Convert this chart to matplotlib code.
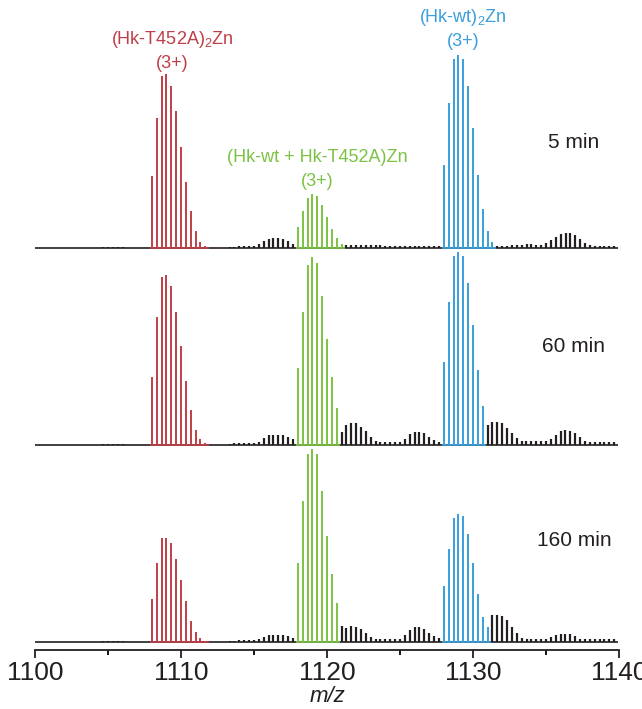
import matplotlib.pyplot as plt
import numpy as np

plt.rcParams['font.family'] = ['Liberation Sans', 'DejaVu Sans']
plt.rcParams['mathtext.fontset'] = 'custom'
plt.rcParams['mathtext.rm'] = 'Liberation Sans'
plt.rcParams['mathtext.it'] = 'Liberation Sans:italic'

STEP = 1 / 3  # isotope spacing of a 3+ ion

times = ['5 min', '60 min', '160 min']

# first m/z of each coloured isotope cluster
red_start, green_start, blue_start = 1108.0, 1118.0, 1128.0

# relative intensities (%), one row per time point
red_int = [
    [37, 67, 89, 90, 84, 71, 52, 34, 19, 9, 3, 1],
    [35, 66, 87, 88, 82, 69, 51, 33, 18, 8, 3, 1],
    [22, 41, 54, 54, 51, 43, 32, 21, 11, 5, 2, 0.5],
]
green_int = [
    [11, 19, 26, 28, 27, 22, 16, 10, 5, 2],
    [40, 69, 93, 97, 94, 77, 55, 35, 19],
    [41, 73, 97, 100, 97, 78, 55, 35, 20],
]
blue_int = [
    [43, 75, 98, 100, 98, 84, 62, 38, 20, 9, 3],
    [43, 74, 98, 100, 98, 84, 62, 39, 20],
    [29, 48, 64, 66, 65, 56, 41, 25, 13, 8],
]

# other (black) peaks: (first m/z, intensities)
black_5 = [
    (1104.67, [0.5, 0.5, 0.5, 0.5, 0.5]),
    (1113.33, [0.5, 0.5, 1, 1, 1, 1]),
    (1115.33, [2, 3.6, 4.7, 5.2, 5.2, 4.7, 3.6, 2]),
    (1121.33, [1.5, 1.5, 1.5, 1.5, 1.5, 1.5, 1.5, 1.5, 1, 1,
               1, 1, 1, 1, 1, 1, 1, 1, 1, 1]),
    (1131.67, [1, 1, 1, 1.5, 1.5, 1.5, 2, 2, 1.5, 1.5, 2.6, 4.1]),
    (1135.67, [5.7, 7.2, 7.8, 7.8, 6.7, 4.7, 2.6]),
    (1138.0, [1.5, 1, 1, 1, 1, 1]),
]
black_60 = [
    (1104.67, [0.5, 0.5, 0.5, 0.5, 0.5]),
    (1113.33, [0.5, 1, 1, 1, 1, 1]),
    (1115.33, [1.5, 3.6, 5.2, 5.2, 5.2, 5.2, 4.1, 3.1]),
    (1121.0, [6.7, 10.3, 11.4, 11.4, 9.3, 7.2, 4.1]),
    (1123.33, [2, 1.5, 1.5, 1.5, 1.5, 1.5]),
    (1125.33, [3.1, 5.7, 6.7, 6.7, 6.2, 4.1, 2.6, 1.5]),
    (1131.0, [10.3, 11.9, 11.9, 11.4, 8.8, 6.2, 3.6]),
    (1133.33, [2, 2, 2, 2, 2, 2]),
    (1135.33, [3.1, 5.2, 7.2, 7.8, 7.2, 6.2, 4.1, 2]),
    (1138.0, [1.5, 1.5, 1.5, 1.5, 1.5, 1.5]),
]
black_160 = [
    (1104.67, [0.5, 0.5, 0.5, 0.5, 0.5]),
    (1113.33, [0.5, 0.5, 1, 1, 1, 1]),
    (1115.33, [1.5, 2.6, 3.6, 3.6, 3.6, 3.6, 3.1, 2]),
    (1121.0, [8.3, 7.2, 8.3, 7.8, 6.7, 4.7, 2.6]),
    (1123.33, [1.5, 1.5, 1.5, 1.5, 1.5, 1.5]),
    (1125.33, [3.6, 6.2, 7.8, 7.8, 6.7, 4.7, 3.1, 2]),
    (1131.33, [14, 14, 13.5, 11.4, 7.8, 4.7, 2]),
    (1133.67, [1.5, 1.5, 1.5, 1.5, 1.5]),
    (1135.33, [2.6, 3.5, 4.3, 4.3, 4, 3.1, 1.7]),
    (1137.67, [1.5, 1.5, 1.5, 1.5, 1.5, 1.5, 1.5]),
]
black_peaks = [black_5, black_60, black_160]

c_red = '#bf3f48'
c_green = '#7cc242'
c_blue = '#3a9fdc'
c_black = '#231f20'

W, H = 642, 709
fig = plt.figure(figsize=(W / 100, H / 100), dpi=100)
# axis line at y=650 px, 1100 at x=35 px, 1140 at x=619 px
ax = fig.add_axes([35 / W, (H - 650) / H, 584 / W, 650 / H])
px = 1.933  # pixels per % intensity
ax.set_ylim(0, 650 / px)
ax.set_xlim(1100, 1140)

offsets = [402 / px, 205 / px, 8 / px]  # baseline of each spectrum
lw = 1.4

for i, off in enumerate(offsets):
    ax.hlines(off, 1100, 1139.9, color=c_black, lw=1.2)
    for start, heights in black_peaks[i]:
        mz = start + STEP * np.arange(len(heights))
        ax.vlines(mz, off, off + np.array(heights), color=c_black, lw=1.6)
    for start, heights, col in [(red_start, red_int[i], c_red),
                                (green_start, green_int[i], c_green),
                                (blue_start, blue_int[i], c_blue)]:
        mz = start + STEP * np.arange(len(heights))
        ax.hlines(off, mz[0] - 0.15, mz[-1] + 0.25, color=col, lw=1.2)
        ax.vlines(mz, off, off + np.array(heights), color=col, lw=lw)

ax.set_xticks(np.arange(1100, 1141, 10))
ax.set_xticks(np.arange(1105, 1140, 10), minor=True)
ax.tick_params(axis='x', which='major', direction='out', length=6, width=1.3,
               labelsize=19, pad=2, colors=c_black)
ax.tick_params(axis='x', which='minor', direction='out', length=3.5, width=1.3)
ax.set_yticks([])
for s in ['left', 'right', 'top']:
    ax.spines[s].set_visible(False)
ax.spines['bottom'].set_linewidth(1.3)
ax.spines['bottom'].set_color(c_black)


def ftext(x, y, s, **kw):
    fig.text(x / W, 1 - y / H, s, ha='center', va='center', **kw)


ftext(172, 40, '(Hk-T452A)$_\\mathregular{2}$Zn', color=c_red, fontsize=13)
ftext(172, 63, '(3+)', color=c_red, fontsize=13)
ftext(463, 18, '(Hk-wt)$_\\mathregular{2}$Zn', color=c_blue, fontsize=13)
ftext(463, 41, '(3+)', color=c_blue, fontsize=13)
ftext(317, 158, '(Hk-wt + Hk-T452A)Zn', color=c_green, fontsize=13)
ftext(317, 181, '(3+)', color=c_green, fontsize=13)
for t, y in zip(times, [142, 347, 540]):
    ftext(574, y, t, color=c_black, fontsize=15)
ftext(327, 697, 'm/z', color=c_black, fontsize=16, style='italic')

fig.savefig('out.png', dpi=100)
